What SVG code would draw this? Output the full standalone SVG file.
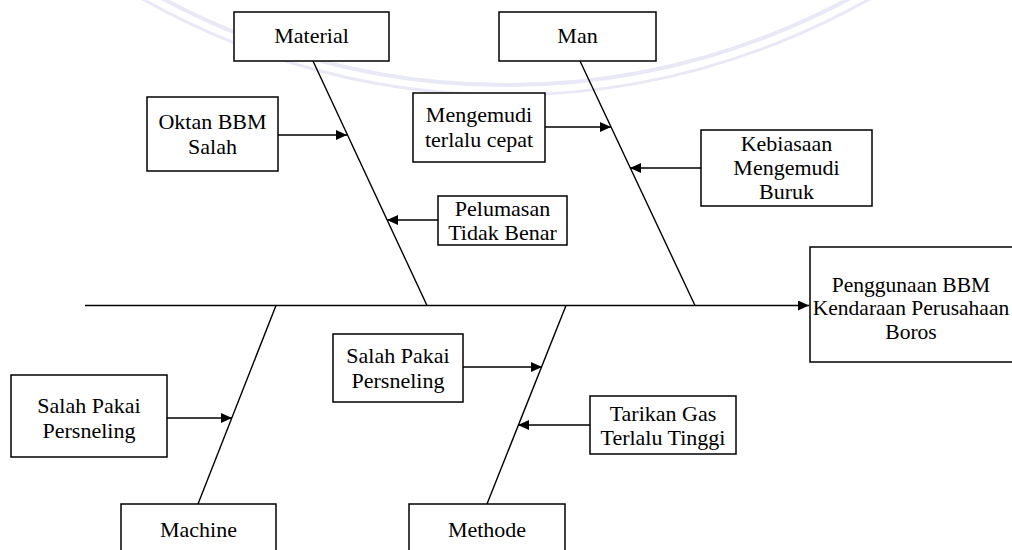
<svg xmlns="http://www.w3.org/2000/svg" width="1012" height="550" viewBox="0 0 1012 550">
  <style>
    .box { fill: #ffffff; stroke: #000000; stroke-width: 1.5; }
    text { font-family: "Liberation Serif", "DejaVu Serif", "Times New Roman", Times, serif; fill: #000000; text-anchor: middle; }
    .t { font-size: 22px; }
    .te { font-size: 21.5px; }
    .ln { stroke: #000000; stroke-width: 1.4; fill: none; }
    .arr { stroke: #000000; stroke-width: 1.4; fill: none; marker-end: url(#ah); }
    .wm { stroke: #e8e8f7; fill: none; }
  </style>
  <defs>
    <marker id="ah" markerUnits="userSpaceOnUse" markerWidth="12" markerHeight="10" refX="11" refY="5" orient="auto">
      <path d="M0,0 L11,5 L0,10 Z" fill="#000000"/>
    </marker>
  </defs>
  <rect x="0" y="0" width="1012" height="550" fill="#ffffff"/>
  <g id="watermark">
    <circle class="wm" cx="506" cy="-640" r="725" stroke-width="4"/>
    <circle class="wm" cx="506" cy="-640" r="735" stroke-width="3"/>
  </g>
  <g id="connectors">
    <line class="arr" x1="85" y1="305.5" x2="809" y2="305.5"/>
    <line class="ln" x1="313" y1="61" x2="427" y2="305.5"/>
    <line class="ln" x1="580" y1="61" x2="695" y2="305.5"/>
    <line class="ln" x1="276" y1="305.5" x2="198" y2="504"/>
    <line class="ln" x1="566" y1="305.5" x2="487" y2="504"/>
    <line class="arr" x1="278" y1="135" x2="347" y2="135"/>
    <line class="arr" x1="545" y1="127" x2="611" y2="127"/>
    <line class="arr" x1="438" y1="220" x2="387" y2="220"/>
    <line class="arr" x1="701" y1="168" x2="630" y2="168"/>
    <line class="arr" x1="167" y1="418" x2="232" y2="418"/>
    <line class="arr" x1="463" y1="367" x2="542" y2="367"/>
    <line class="arr" x1="590" y1="425" x2="518" y2="425"/>
  </g>
  <g id="material">
    <rect class="box" x="234" y="12" width="155" height="49"/>
    <text class="t" x="311.5" y="43">Material</text>
  </g>
  <g id="man">
    <rect class="box" x="499" y="12" width="157" height="49"/>
    <text class="t" x="577.5" y="43">Man</text>
  </g>
  <g id="oktan">
    <rect class="box" x="147" y="97" width="131" height="74"/>
    <text class="t" x="212.5" y="129">Oktan BBM</text>
    <text class="t" x="212.5" y="154">Salah</text>
  </g>
  <g id="mengemudi">
    <rect class="box" x="413" y="93" width="132" height="69"/>
    <text class="t" x="479" y="122">Mengemudi</text>
    <text class="t" x="479" y="147">terlalu cepat</text>
  </g>
  <g id="pelumasan">
    <rect class="box" x="438" y="196" width="129" height="49"/>
    <text class="t" x="502.5" y="216">Pelumasan</text>
    <text class="t" x="502.5" y="240">Tidak Benar</text>
  </g>
  <g id="kebiasaan">
    <rect class="box" x="701" y="130" width="171" height="76"/>
    <text class="t" x="786.5" y="151">Kebiasaan</text>
    <text class="t" x="786.5" y="175">Mengemudi</text>
    <text class="t" x="786.5" y="199">Buruk</text>
  </g>
  <g id="effect">
    <rect class="box" x="810" y="247" width="204" height="115"/>
    <text class="te" x="911" y="292">Penggunaan BBM</text>
    <text class="te" x="911" y="315">Kendaraan Perusahaan</text>
    <text class="te" x="911" y="339">Boros</text>
  </g>
  <g id="salah-pakai-machine">
    <rect class="box" x="11" y="375" width="156" height="82"/>
    <text class="t" x="89" y="413">Salah Pakai</text>
    <text class="t" x="89" y="438">Persneling</text>
  </g>
  <g id="salah-pakai-methode">
    <rect class="box" x="333" y="334" width="130" height="68"/>
    <text class="t" x="398" y="363">Salah Pakai</text>
    <text class="t" x="398" y="388">Persneling</text>
  </g>
  <g id="tarikan-gas">
    <rect class="box" x="590" y="396" width="146" height="58"/>
    <text class="t" x="663" y="421">Tarikan Gas</text>
    <text class="t" x="663" y="445">Terlalu Tinggi</text>
  </g>
  <g id="machine">
    <rect class="box" x="121" y="504" width="155" height="52"/>
    <text class="t" x="198.5" y="537">Machine</text>
  </g>
  <g id="methode">
    <rect class="box" x="409" y="504" width="156" height="52"/>
    <text class="t" x="487" y="537">Methode</text>
  </g>
</svg>
